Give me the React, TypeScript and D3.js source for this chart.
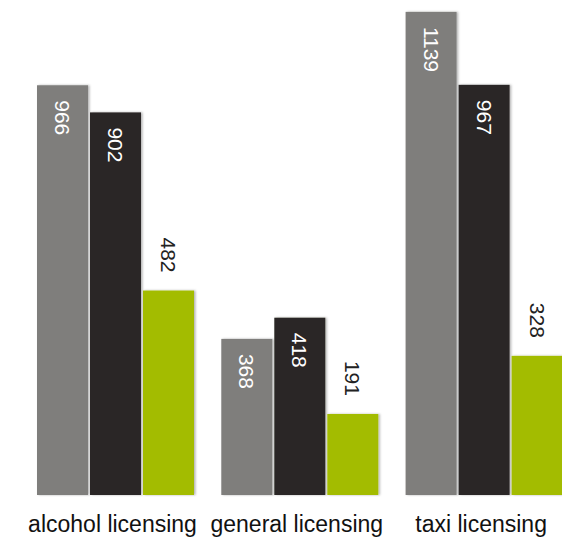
import React from "react";
import * as d3 from "d3";

const categories = ["alcohol licensing", "general licensing", "taxi licensing"];
const seriesNames = ["s1", "s2", "s3"];
const series1 = [966, 368, 1139];
const series2 = [902, 418, 967];
const series3 = [482, 191, 328];
const seriesValues = [series1, series2, series3];
const colors = ["#7f7e7c", "#2c2825", "#a3bc00"];

const W = 562;
const H = 537;
const baseY = 495;

export default function App() {
  const step = 184.3;
  const padIn = 27.3 / step;
  const x0 = d3
    .scaleBand<string>()
    .domain(categories)
    .range([23.35, 23.35 + step * categories.length])
    .paddingInner(padIn)
    .paddingOuter(padIn / 2);
  const x1 = d3
    .scaleBand<string>()
    .domain(seriesNames)
    .range([0, x0.bandwidth()])
    .paddingInner(2 / 53);
  const y = d3.scaleLinear().domain([0, 1167]).range([baseY, 0]);

  const font = "'Liberation Sans', Arial, sans-serif";

  return (
    <svg
      width={W}
      height={H}
      style={{ position: "absolute", left: 0, top: 0, background: "#fff" }}
      fontFamily={font}
    >
      <defs>
        <filter id="sh" x="-20%" y="-5%" width="140%" height="110%">
          <feDropShadow dx="1.5" dy="0" stdDeviation="1.3" floodColor="#000" floodOpacity="0.3" />
        </filter>
        <filter id="lsh" x="-5%" y="-200%" width="110%" height="500%">
          <feDropShadow dx="0" dy="1" stdDeviation="0.8" floodColor="#000" floodOpacity="0.25" />
        </filter>
      </defs>
      <line
        x1={23}
        x2={W}
        y1={baseY + 1.2}
        y2={baseY + 1.2}
        stroke="#a8a8a8"
        strokeWidth={2}
        filter="url(#lsh)"
      />
      {categories.map((c, ci) => (
        <g key={c} transform={`translate(${x0(c)},0)`}>
          {seriesNames.map((s, si) => {
            const v = seriesValues[si][ci];
            const bx = x1(s)!;
            const bw = x1.bandwidth();
            const top = y(v);
            const cx = bx + bw / 2;
            const inside = si < 2;
            return (
              <g key={s}>
                <rect
                  x={bx}
                  y={top}
                  width={bw}
                  height={baseY - top}
                  fill={colors[si]}
                  filter="url(#sh)"
                />
                <text
                  transform={`translate(${cx},${inside ? top + 15 : top - 18}) rotate(90)`}
                  textAnchor={inside ? "start" : "end"}
                  dominantBaseline="central"
                  fontSize={21}
                  fill={inside ? "#ffffff" : "#222222"}
                >
                  {v}
                </text>
              </g>
            );
          })}
          <text
            x={x0.bandwidth() / 2 - 3}
            y={532}
            textAnchor="middle"
            fontSize={23}
            fill="#111111"
          >
            {c}
          </text>
        </g>
      ))}
    </svg>
  );
}
